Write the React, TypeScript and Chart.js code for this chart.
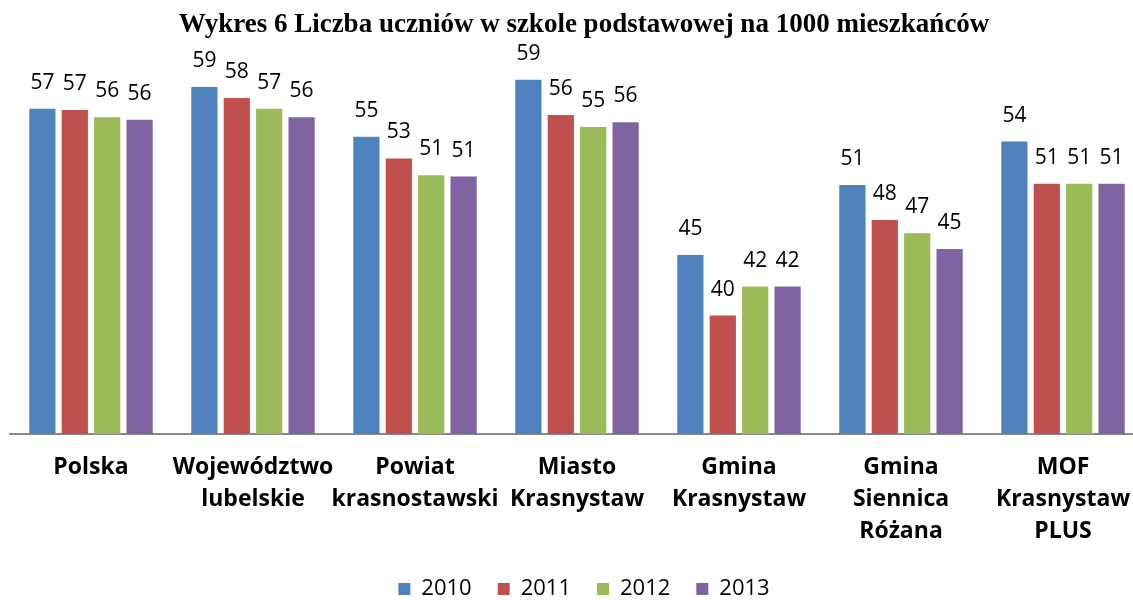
import React, { useEffect, useRef } from "react";
import { Chart, registerables } from "chart.js";

Chart.register(...registerables);

const categories: (string | string[])[] = [
  "Polska",
  ["Województwo", "lubelskie"],
  ["Powiat", "krasnostawski"],
  ["Miasto", "Krasnystaw"],
  ["Gmina", "Krasnystaw"],
  ["Gmina", "Siennica", "Różana"],
  ["MOF", "Krasnystaw", "PLUS"],
];

const seriesNames = ["2010", "2011", "2012", "2013"];
const values2010 = [56.9, 58.7, 54.6, 59.3, 44.8, 50.6, 54.2];
const values2011 = [56.8, 57.8, 52.8, 56.4, 39.8, 47.7, 50.7];
const values2012 = [56.2, 56.9, 51.4, 55.4, 42.2, 46.6, 50.7];
const values2013 = [56.0, 56.2, 51.3, 55.8, 42.2, 45.3, 50.7];
const seriesColors = ["#4F81BD", "#C0504D", "#9BBB59", "#8064A2"];

const titleText = "Wykres 6 Liczba uczniów w szkole podstawowej na 1000 mieszkańców";

const dataLabelPlugin = {
  id: "dataLabels",
  afterDatasetsDraw(chart: any) {
    const ctx = chart.ctx;
    ctx.save();
    ctx.font = '21px "Open Sans"';
    ctx.fillStyle = "#000";
    ctx.textAlign = "center";
    ctx.textBaseline = "alphabetic";
    chart.data.datasets.forEach((ds: any, i: number) => {
      const meta = chart.getDatasetMeta(i);
      meta.data.forEach((bar: any, j: number) => {
        const v = ds.data[j];
        ctx.fillText(String(Math.round(v)), bar.x, bar.y - 20);
      });
    });
    ctx.restore();
  },
};

export default function App() {
  const ref = useRef<HTMLCanvasElement | null>(null);
  useEffect(() => {
    let chart: Chart | null = null;
    let cancelled = false;
    const fontsReady = (document as any).fonts
      ? Promise.all([
          (document as any).fonts.load('bold 23px "Open Sans"'),
          (document as any).fonts.load('21px "Open Sans"'),
          (document as any).fonts.load('bold 27px "Liberation Serif"'),
        ]).catch(() => null)
      : Promise.resolve(null);
    fontsReady.then(() => {
      if (cancelled || !ref.current) return;
      const all = [values2010, values2011, values2012, values2013];
      chart = new Chart(ref.current, {
        type: "bar",
        data: {
          labels: categories,
          datasets: seriesNames.map((name, i) => ({
            label: name,
            data: all[i],
            backgroundColor: seriesColors[i],
            borderWidth: 0,
            barPercentage: 0.81,
            categoryPercentage: 0.8,
          })),
        },
        options: {
          responsive: false,
          animation: false,
          layout: { padding: { left: 10, right: 0, top: 0, bottom: -10 } },
          plugins: {
            title: {
              display: true,
              text: titleText,
              color: "#000",
              font: { family: '"Liberation Serif", "Times New Roman", serif', size: 27, weight: "bold" },
              padding: { top: 9, bottom: 30 },
            },
            legend: {
              display: true,
              position: "bottom",
              labels: {
                boxWidth: 12,
                boxHeight: 12,
                padding: 26,
                color: "#000",
                font: { family: '"Open Sans"', size: 22 },
              },
            },
            tooltip: { enabled: false },
          },
          scales: {
            x: {
              grid: { display: false, drawTicks: false },
              border: { display: true, color: "#8a8a8a", width: 2 },
              ticks: {
                color: "#000",
                autoSkip: false,
                maxRotation: 0,
                padding: 17,
                font: { family: '"Open Sans"', size: 23, weight: "bold", lineHeight: 32 / 23 },
              },
              afterFit: (s: any) => {
                s.height = 118;
              },
            },
            y: {
              position: "right",
              min: 30,
              max: 60,
              grid: { display: false, drawTicks: false },
              border: { display: false },
              ticks: { display: false },
              afterFit: (s: any) => {
                s.width = 14;
              },
            },
          },
        },
        plugins: [dataLabelPlugin],
      });
    });
    return () => {
      cancelled = true;
      if (chart) chart.destroy();
    };
  }, []);
  return (
    <div
      style={{
        position: "fixed",
        left: 0,
        top: 0,
        width: 1133,
        height: 600,
        overflow: "hidden",
        background: "#fff",
      }}
    >
      <canvas ref={ref} width={1158} height={600} style={{ display: "block" }} />
    </div>
  );
}
